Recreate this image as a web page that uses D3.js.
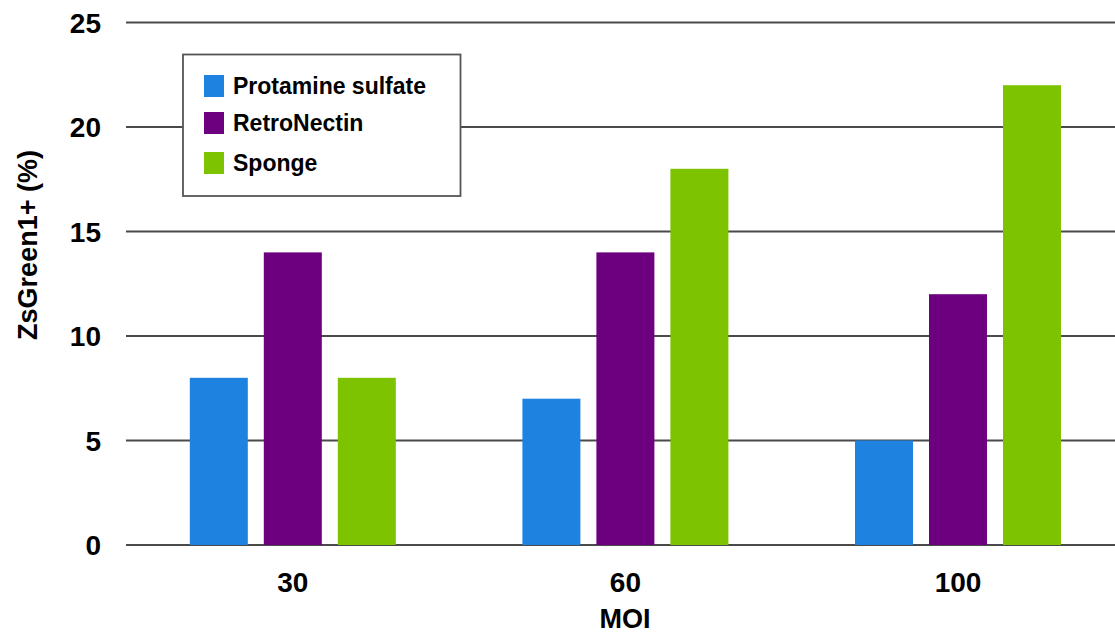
<!DOCTYPE html>
<html>
<head>
<meta charset="utf-8">
<script src="https://cdn.jsdelivr.net/npm/d3@7"></script>
<style>
  html, body { margin: 0; padding: 0; background: #fff; }
  svg { display: block; font-family: "Liberation Sans", Arial, sans-serif; }
</style>
</head>
<body>
<svg id="chart" width="1115" height="633"></svg>
<script>
const categories = ["30", "60", "100"];
const seriesNames = ["Protamine sulfate", "RetroNectin", "Sponge"];
const protamineSulfate = [8, 7, 5];
const retroNectin = [14, 14, 12];
const sponge = [8, 18, 22];
const yTicks = [0, 5, 10, 15, 20, 25];
const xTitle = "MOI";
const yTitle = "ZsGreen1+ (%)";

const colors = ["#1e82e0", "#6c007f", "#7dc300"];
const seriesValues = [protamineSulfate, retroNectin, sponge];

const svg = d3.select("#chart");

const y = d3.scaleLinear().domain([0, 25]).range([545, 22.5]);
const x = d3.scaleBand().domain(categories).range([126.5, 1124.3]).padding(0);
const groupW = 206;
const xs = d3.scaleBand().domain(seriesNames).range([-groupW / 2, groupW / 2])
  .paddingInner(16 / 74).paddingOuter(0);

// gridlines
svg.append("g").selectAll("line").data(yTicks).join("line")
  .attr("x1", 126).attr("x2", 1115)
  .attr("y1", d => y(d)).attr("y2", d => y(d))
  .attr("stroke", "#4a4a4a").attr("stroke-width", 2);

// y tick labels
svg.append("g").selectAll("text").data(yTicks).join("text")
  .attr("x", 101).attr("y", d => y(d)).attr("dy", "0.36em")
  .attr("text-anchor", "end")
  .attr("font-size", 28).attr("font-weight", "bold").attr("fill", "#000")
  .text(d => d);

// bars
const rows = [];
categories.forEach((c, i) => {
  seriesNames.forEach((s, j) => rows.push({ c, s, j, v: seriesValues[j][i] }));
});
svg.append("g").selectAll("rect").data(rows).join("rect")
  .attr("x", d => x(d.c) + x.bandwidth() / 2 + xs(d.s))
  .attr("width", xs.bandwidth())
  .attr("y", d => y(d.v))
  .attr("height", d => y(0) - y(d.v))
  .attr("fill", d => colors[d.j]);

// x tick labels
svg.append("g").selectAll("text").data(categories).join("text")
  .attr("x", d => x(d) + x.bandwidth() / 2).attr("y", 592)
  .attr("text-anchor", "middle")
  .attr("font-size", 28).attr("font-weight", "bold").attr("fill", "#000")
  .text(d => d);

// axis titles
svg.append("text")
  .attr("x", 625).attr("y", 628).attr("text-anchor", "middle")
  .attr("font-size", 27).attr("font-weight", "bold").attr("fill", "#000")
  .text(xTitle);

svg.append("text")
  .attr("transform", "translate(37,245) rotate(-90)")
  .attr("text-anchor", "middle")
  .attr("font-size", 27).attr("font-weight", "bold").attr("fill", "#000")
  .text(yTitle);

// legend
const lg = svg.append("g");
lg.append("rect")
  .attr("x", 183).attr("y", 54.5).attr("width", 277.5).attr("height", 141.5)
  .attr("fill", "#fff").attr("stroke", "#555").attr("stroke-width", 1.8);
const legendCenters = [86, 123, 163];
seriesNames.forEach((s, j) => {
  lg.append("rect")
    .attr("x", 204).attr("y", legendCenters[j] - 11)
    .attr("width", 20).attr("height", 22)
    .attr("fill", colors[j]);
  lg.append("text")
    .attr("x", 233).attr("y", legendCenters[j]).attr("dy", "0.36em")
    .attr("font-size", 23).attr("font-weight", "bold").attr("fill", "#000")
    .text(s);
});
</script>
</body>
</html>
